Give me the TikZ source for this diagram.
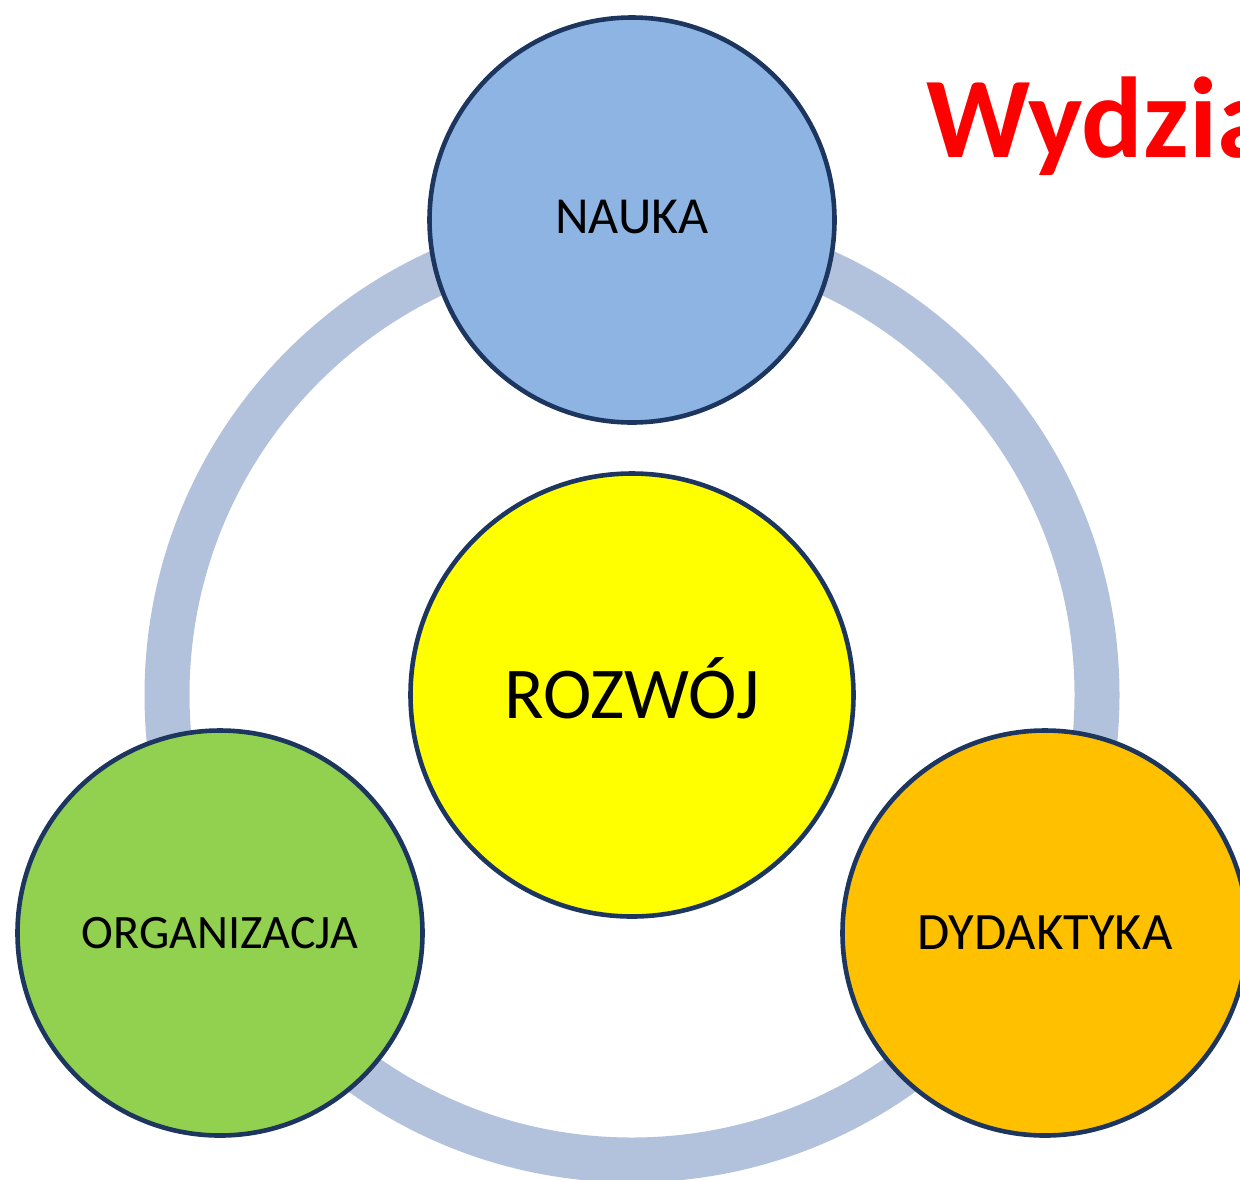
\documentclass[tikz,border=0pt]{standalone}
\usepackage{fontspec}
\setmainfont{Carlito}
\definecolor{ringc}{HTML}{B3C2DC}
\definecolor{edgec}{HTML}{1C3660}
\definecolor{naukac}{HTML}{8EB4E3}
\definecolor{rozwc}{HTML}{FFFF00}
\definecolor{orgc}{HTML}{92D050}
\definecolor{dydc}{HTML}{FFC000}
\definecolor{titlec}{HTML}{FF0000}
\begin{document}
\begin{tikzpicture}[x=1pt,y=-1pt,
  bubble/.style={circle,draw=edgec,line width=4.6pt,inner sep=0pt,text=black,
    text depth=0pt,minimum size=405pt},
  ringline/.style={draw=ringc,line width=45pt}]
\clip (0,0) rectangle (1240,1179);
\useasboundingbox (0,0) rectangle (1240,1179);
\coordinate (c) at (632,695);
\draw[ringline] (c) circle (465);
\node[bubble,fill=naukac,text height=33.5pt,text depth=6pt,font=\fontsize{52}{62}\selectfont] (nauka) at (632,220) {NAUKA};
\node[bubble,fill=rozwc,minimum size=443pt,text height=47pt,font=\fontsize{73}{84}\selectfont] (rozwoj) at (632,695) {ROZWÓJ};
\node[bubble,fill=orgc,text height=31pt,font=\fontsize{48}{58}\selectfont] (org) at (220,933) {ORGANIZACJA};
\node[bubble,fill=dydc,text height=34pt,text depth=2pt,font=\fontsize{52.5}{62}\selectfont] (dyd) at (1045,933) {DYDAKTYKA};
\node[anchor=base west,inner sep=0pt,text=titlec,font=\fontsize{115}{130}\selectfont\bfseries] (title) at (926,157) {Wydział};
\end{tikzpicture}
\end{document}
